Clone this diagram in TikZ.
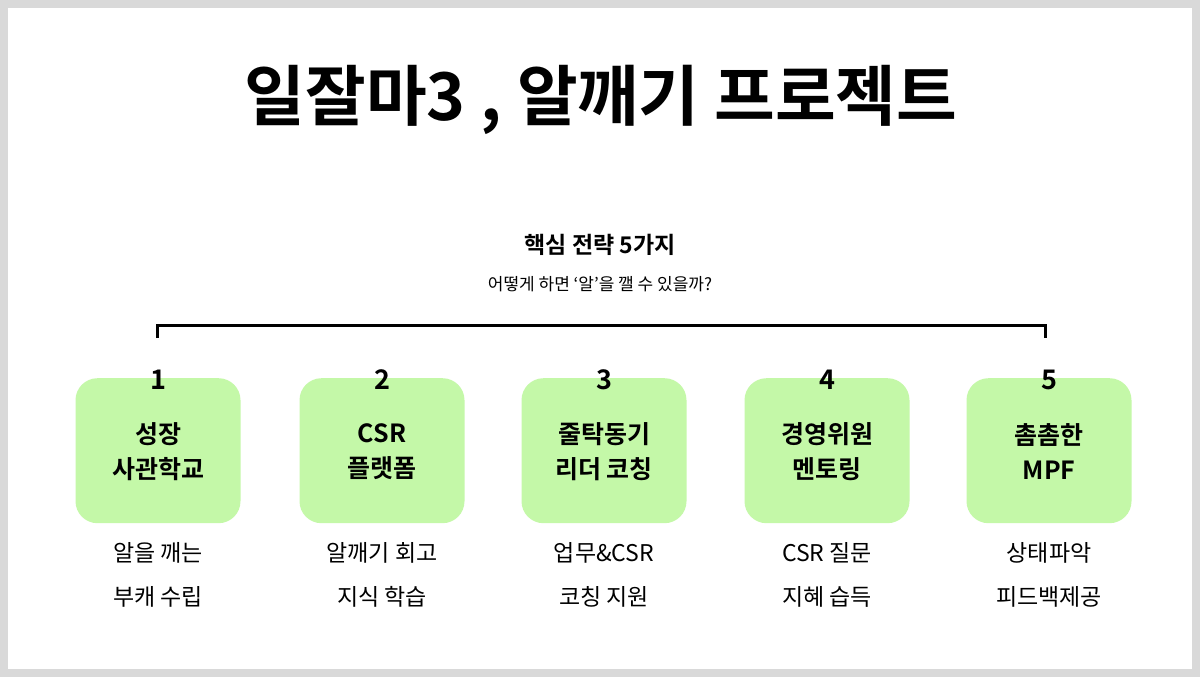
\documentclass[tikz,border=0pt]{standalone}
\usepackage{fontspec}
\newfontfamily\kr{Noto Sans CJK KR}
\newfontfamily\krb{Noto Sans CJK KR Bold}
\definecolor{boxg}{HTML}{C4F8A8}
\definecolor{frameg}{HTML}{D9D9D9}
\begin{document}
\begin{tikzpicture}[x=1pt,y=-1pt,
  gbox/.style={fill=boxg,rounded corners=22pt,minimum width=165pt,minimum height=145pt,anchor=north},
  btxt/.style={font=\krb\fontsize{25}{35}\selectfont,align=center,text=black},
  ntxt/.style={font=\krb\fontsize{27}{30}\selectfont},
  stxt/.style={font=\kr\fontsize{23}{44}\selectfont,align=center}]
\useasboundingbox (0,0) rectangle (1200,677);
\fill[white] (0,0) rectangle (1200,677);
\draw[frameg,line width=8pt] (4,4) rectangle (1196,673);
\node (title) at (601,100) {\krb\fontsize{66}{70}\selectfont 일잘마3 , 알깨기 프로젝트};
\node (sub) at (600,245) {\krb\fontsize{23}{26}\selectfont 핵심 전략 5가지};
\node (sub2) at (600,284) {\kr\fontsize{17}{20}\selectfont 어떻게 하면 ‘알’을 깰 수 있을까?};
\coordinate (bl) at (157,338);
\coordinate (br) at (1045,338);
\draw[line width=3pt] (bl) -- ++(0,-13) -| (br);
\foreach \i/\x/\a/\b/\c/\d in {1/158/성장/사관학교/알을 깨는/부캐 수립,
  2/382/CSR/플랫폼/알깨기 회고/지식 학습,
  3/604/줄탁동기/리더 코칭/업무\&CSR/코칭 지원,
  4/827/경영위원/멘토링/CSR 질문/지혜 습득,
  5/1049/촘촘한/MPF/상태파악/피드백제공}{
  \node[gbox] (b\i) at (\x,378) {};
  \node[ntxt] (n\i) at (\x,380) {\i};
  \node[btxt] (t\i) at (\x,452) {\a\\\b};
  \node[stxt] (s\i) at (\x,575) {\c\\\d};
}
\end{tikzpicture}
\end{document}
